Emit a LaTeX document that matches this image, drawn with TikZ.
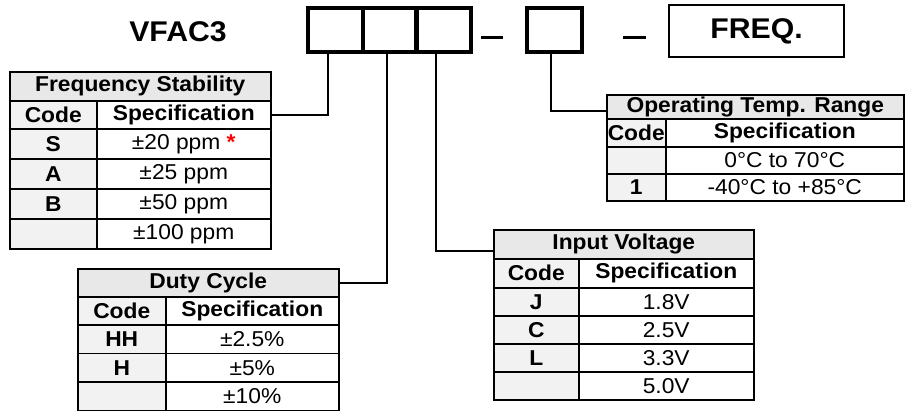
\documentclass[tikz,border=0pt]{standalone}
\usepackage{fontspec}
\setmainfont{Liberation Sans}[FakeStretch=1.06]
\definecolor{headgray}{HTML}{E8E8E8}
\definecolor{codegray}{HTML}{F2F2F2}
\tikzset{
    cell/.style={draw, line width=1.5pt, anchor=north west, inner sep=0pt,
        font=\fontsize{21.5}{24}\selectfont},
    headcell/.style={cell, fill=headgray, font=\fontsize{21.5}{24}\selectfont\bfseries},
    codecell/.style={cell, fill=codegray, font=\fontsize{21.5}{24}\selectfont\bfseries},
    speccell/.style={cell, fill=white},
    partbox/.style={draw, line width=3.5pt, minimum width=55pt, minimum height=44pt, inner sep=0pt},
    link/.style={line width=1.5pt},
}
\begin{document}
\begin{tikzpicture}[x=1pt, y=-1pt]
    \useasboundingbox (0,0) rectangle (912,412);

    % part number
    \node[font=\fontsize{28.5}{30}\selectfont\bfseries] (model) at (178,32) {VFAC3};
    \node[partbox] (b1) at (335.5,30) {};
    \node[partbox] (b2) at (390,30) {};
    \node[partbox] (b3) at (443.5,30) {};
    \node[partbox] (b4) at (554.5,30) {};
    \node[draw, line width=2.5pt, minimum width=175pt, minimum height=52pt,
        font=\fontsize{28.5}{30}\selectfont\bfseries] (freq) at (756.5,31) {FREQ.};
    \draw[line width=3pt] (481,38) -- (503,38);
    \draw[line width=3pt] (623,38) -- (646,38);

    % frequency stability
    \node[headcell, minimum width=261pt, minimum height=29pt] (stitle) at (9,71) {Frequency Stability};
    \node[codecell, minimum width=87pt, minimum height=28pt] (scode) at (9,100) {Code};
    \node[speccell, font=\fontsize{21.5}{24}\selectfont\bfseries, minimum width=174pt, minimum height=28pt] (sspec) at (96,100) {Specification};
    \foreach \c/\s [count=\i from 0] in {S/{±20 ppm \textcolor{red}{\textbf{*}}}, A/±25 ppm, B/±50 ppm, /±100 ppm} {
        \node[codecell, minimum width=87pt, minimum height=30pt] (sc\i) at ({9},{128+30*\i}) {\c};
        \node[speccell, minimum width=174pt, minimum height=30pt] (ss\i) at ({96},{128+30*\i}) {\s};
    }

    % duty cycle
    \node[headcell, minimum width=261pt, minimum height=28pt] (dtitle) at (77,268) {Duty Cycle};
    \node[codecell, minimum width=88pt, minimum height=28pt] (dcode) at (77,296) {Code};
    \node[speccell, font=\fontsize{21.5}{24}\selectfont\bfseries, minimum width=173pt, minimum height=28pt] (dspec) at (165,296) {Specification};
    \foreach \c/\s [count=\i from 0] in {HH/±2.5\%, H/±5\%, /±10\%} {
        \node[codecell, minimum width=88pt, minimum height=28.6pt] (dc\i) at ({77},{324+28.6*\i}) {\c};
        \node[speccell, minimum width=173pt, minimum height=28.6pt] (ds\i) at ({165},{324+28.6*\i}) {\s};
    }

    % input voltage
    \node[headcell, minimum width=260pt, minimum height=29pt] (vtitle) at (493,229) {Input Voltage};
    \node[codecell, minimum width=85pt, minimum height=29pt] (vcode) at (493,258) {Code};
    \node[speccell, font=\fontsize{21.5}{24}\selectfont\bfseries, minimum width=175pt, minimum height=29pt] (vspec) at (578,258) {Specification};
    \foreach \c/\s [count=\i from 0] in {J/1.8V, C/2.5V, L/3.3V, /5.0V} {
        \node[codecell, minimum width=85pt, minimum height=28pt] (vc\i) at ({493},{287+28*\i}) {\c};
        \node[speccell, minimum width=175pt, minimum height=28pt] (vs\i) at ({578},{287+28*\i}) {\s};
    }

    % operating temperature
    \node[headcell, minimum width=297pt, minimum height=24pt] (ttitle) at (606,94) {Operating Temp. Range};
    \node[codecell, minimum width=59pt, minimum height=28pt] (tcode) at (606,118) {Code};
    \node[speccell, font=\fontsize{21.5}{24}\selectfont\bfseries, minimum width=238pt, minimum height=28pt] (tspec) at (665,118) {Specification};
    \foreach \c/\s [count=\i from 0] in {/0°C to 70°C, 1/-40°C to +85°C} {
        \node[codecell, minimum width=59pt, minimum height=27pt] (tc\i) at ({606},{146+27*\i}) {\c};
        \node[speccell, minimum width=238pt, minimum height=27pt] (ts\i) at ({665},{146+27*\i}) {\s};
    }

    % connectors
    \draw[link] ([xshift=-7.5pt]b1.south) |- (sspec.east);
    \draw[link] ([xshift=-3pt]b2.south) |- (dtitle.east);
    \draw[link] ([xshift=-7.5pt]b3.south) |- ([yshift=-6.5pt]vtitle.west);
    \draw[link] ([xshift=-3.5pt]b4.south) |- ([yshift=-4pt]ttitle.west);
\end{tikzpicture}
\end{document}
